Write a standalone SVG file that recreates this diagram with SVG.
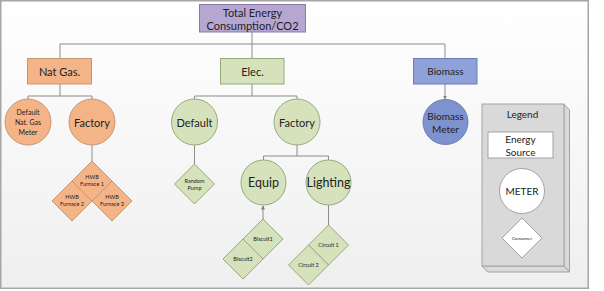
<svg xmlns="http://www.w3.org/2000/svg" width="604" height="291" viewBox="0 0 604 291">
<defs>
<linearGradient id="bg" x1="0" y1="0" x2="0" y2="1">
<stop offset="0" stop-color="#ffffff"/>
<stop offset="1" stop-color="#efefef"/>
</linearGradient>
<marker id="arr" viewBox="0 0 6 6" refX="6" refY="3" markerWidth="4" markerHeight="4" orient="auto">
<path d="M0,0 L6,3 L0,6 z" fill="#7f7f7f"/>
</marker>
<style>
text{font-family:Lato,"Liberation Sans",sans-serif;fill:#222;text-anchor:middle;dominant-baseline:central}
.c{fill:none;stroke:#8c8c8c;stroke-width:1}
.pur{fill:#b6a6d2;stroke:#8b7ba8;stroke-width:1}
.org{fill:#f5b487;stroke:#c49774;stroke-width:1}
.grn{fill:#d6e2bb;stroke:#9aa97d;stroke-width:1}
.blu{fill:#8ea1d8;stroke:#6c7db5;stroke-width:1}
.blu2{fill:#7f92d0;stroke:#6c7db5;stroke-width:1}
.leg{fill:#d9d9d9;stroke:#a3a3a3;stroke-width:1}
.wht{fill:#ffffff;stroke:#a3a3a3;stroke-width:1}
.t11{font-size:11px}
.t10{font-size:10px}
.t7{font-size:7px}
.t5{font-size:5.5px}
</style>
</defs>
<rect x="0.75" y="0.75" width="587.5" height="287.5" fill="url(#bg)" stroke="#a6a6a6" stroke-width="1.5"/>

<g id="connectors">
<path class="c" d="M252,32 V44 M60,44 H445 M60,44 V58 M252,44 V58"/>
<path class="c" d="M445,44 V58"/>
<path class="c" d="M445,84 V99.5" marker-end="url(#arr)"/>
<path class="c" d="M60,84 V96 M28,96 H92 M28,96 V99 M92,96 V99"/>
<path class="c" d="M252,84 V96 M194.5,96 H297 M194.5,96 V99 M297,96 V99"/>
<path class="c" d="M92,145 V161"/>
<path class="c" d="M194.5,145 V164"/>
<path class="c" d="M297,145 V156 M263.5,156 H328.5 M263.5,156 V160 M328.5,156 V160"/>
<path class="c" d="M263,219 V205.5" marker-end="url(#arr)"/>
<path class="c" d="M328.5,205 V225"/>
</g>

<g id="total">
<rect class="pur" x="199.5" y="4.5" width="106" height="27.5"/>
<text class="t11" x="252.5" y="12">Total Energy</text>
<text class="t11" x="252.5" y="25">Consumption/CO2</text>
</g>

<g id="natgas">
<rect class="org" x="27.5" y="58.5" width="64" height="25.5"/>
<text class="t11" x="59.5" y="71">Nat Gas.</text>
</g>
<g id="elec">
<rect class="grn" x="220.5" y="58.5" width="63.5" height="25.5"/>
<text class="t11" x="252.5" y="71">Elec.</text>
</g>
<g id="biomass">
<rect class="blu" x="413.5" y="58.5" width="63.5" height="25.5"/>
<text class="t10" x="445.5" y="71">Biomass</text>
</g>

<g id="default-natgas-meter">
<circle class="org" cx="28" cy="122" r="23"/>
<text class="t7" x="28" y="112">Default</text>
<text class="t7" x="28" y="122">Nat. Gas</text>
<text class="t7" x="28" y="132">Meter</text>
</g>
<g id="natgas-factory">
<circle class="org" cx="92" cy="122" r="23"/>
<text class="t11" x="92" y="122">Factory</text>
</g>
<g id="elec-default">
<circle class="grn" cx="194.5" cy="122" r="23"/>
<text class="t11" x="194.5" y="122">Default</text>
</g>
<g id="elec-factory">
<circle class="grn" cx="297" cy="122" r="23"/>
<text class="t11" x="297" y="122">Factory</text>
</g>
<g id="biomass-meter">
<circle class="blu2" cx="445.5" cy="122" r="22.5"/>
<text class="t10" x="445.5" y="115.5">Biomass</text>
<text class="t10" x="445.5" y="128.5">Meter</text>
</g>

<g id="hwb-furnace-1">
<path class="org" d="M92,161 L112,181 L92,201 L72,181 Z"/>
<text class="t5" x="92" y="177">HWB</text>
<text class="t5" x="92" y="184">Furnace 1</text>
</g>
<g id="hwb-furnace-2">
<path class="org" d="M72,181 L92,201 L72,221 L52,201 Z"/>
<text class="t5" x="72" y="197">HWB</text>
<text class="t5" x="72" y="204">Furnace 2</text>
</g>
<g id="hwb-furnace-3">
<path class="org" d="M112,181 L132,201 L112,221 L92,201 Z"/>
<text class="t5" x="112" y="197">HWB</text>
<text class="t5" x="112" y="204">Furnace 3</text>
</g>

<g id="random-pump">
<path class="grn" d="M194.5,164 L214.5,184 L194.5,204 L174.5,184 Z"/>
<text class="t5" x="194.5" y="180.5">Random</text>
<text class="t5" x="194.5" y="187.5">Pump</text>
</g>

<g id="equip">
<circle class="grn" cx="263.5" cy="182.5" r="22.5"/>
<text x="263.5" y="182.5" style="font-size:12.5px">Equip</text>
</g>
<g id="lighting">
<circle class="grn" cx="328.5" cy="182.5" r="22.5"/>
<text x="328.5" y="182.5" style="font-size:12.5px">Lighting</text>
</g>

<g id="biscuit1">
<path class="grn" d="M263,219 L283,239 L263,259 L243,239 Z"/>
<text class="t5" x="263" y="239">Biscuit1</text>
</g>
<g id="biscuit2">
<path class="grn" d="M243,239 L263,259 L243,279 L223,259 Z"/>
<text class="t5" x="243" y="259">Biscuit2</text>
</g>
<g id="circuit1">
<path class="grn" d="M328.5,225 L348.5,245 L328.5,265 L308.5,245 Z"/>
<text class="t5" x="328.5" y="245">Circuit 1</text>
</g>
<g id="circuit2">
<path class="grn" d="M308.5,245 L328.5,265 L308.5,285 L288.5,265 Z"/>
<text class="t5" x="308.5" y="265">Circuit 2</text>
</g>

<g id="legend">
<path class="leg" d="M564,104 L569.5,110 L569.5,272 L564,266 Z"/>
<path class="leg" d="M482,266 L564,266 L569.5,272 L487.5,272 Z"/>
<rect class="leg" x="482" y="104" width="82" height="162"/>
<text class="t10" x="522.5" y="113.5">Legend</text>
<rect class="wht" x="488" y="132" width="65" height="26"/>
<text class="t10" x="520.5" y="139">Energy</text>
<text class="t10" x="520.5" y="151.5">Source</text>
<circle class="wht" cx="522" cy="191" r="22.5"/>
<text class="t10" x="522" y="191">METER</text>
<path class="wht" d="M522,218 L542,238 L522,258 L502,238 Z"/>
<text x="522" y="238" style="font-size:4.5px">Consumer</text>
</g>
</svg>
